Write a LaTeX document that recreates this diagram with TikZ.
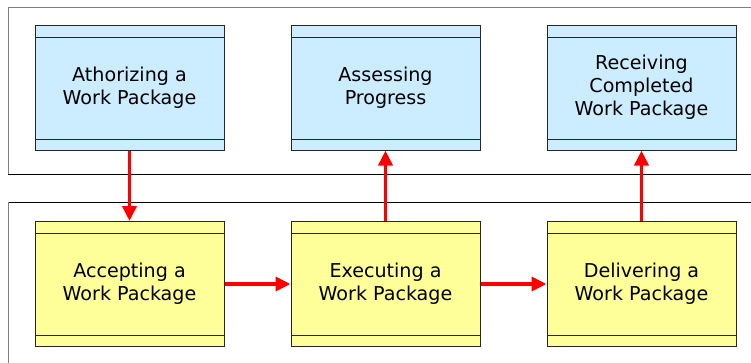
\documentclass[tikz,border=0pt]{standalone}
\usepackage{fontspec}
\setmainfont{DejaVu Sans}
\usetikzlibrary{arrows.meta}
\definecolor{pkgblue}{RGB}{204,236,255}
\definecolor{pkgyellow}{RGB}{255,255,153}
\begin{document}
\begin{tikzpicture}[
  x=1pt, y=1pt,
  block/.style={rectangle, draw=black!85, line width=1pt, minimum width=189pt, minimum height=125pt,
    align=center, font=\fontsize{19.1}{22.8}\selectfont, inner sep=0pt,
    path picture={
      \draw[black!85, line width=1pt] ([yshift=-12pt]path picture bounding box.north west) -- ([yshift=-12pt]path picture bounding box.north east);
      \draw[black!85, line width=1pt] ([yshift=11pt]path picture bounding box.south west) -- ([yshift=11pt]path picture bounding box.south east);
    }},
  manager/.style={block, fill=pkgblue},
  team/.style={block, fill=pkgyellow},
  flow/.style={-{Triangle[length=15pt,width=14pt]}, red, line width=3.6pt},
  node distance=256pt
]
\useasboundingbox (0,0) rectangle (751,-362);

% Frames
\draw[gray, line width=0.9pt] (760,-7) -- (8,-7) -- (8,-174);
\draw[line width=0.9pt] (8,-174) -- (760,-174);
\draw[line width=0.9pt] (760,-202) -- (8,-202);
\draw[gray, line width=0.9pt] (8,-202) -- (8,-370);

% Upper row - project manager
\node[manager] (auth) at (129.5,-87.5) {Athorizing a\\Work Package};
\node[manager, right of=auth] (assess) {Assessing\\Progress};
\node[manager, right of=assess] (receive) {Receiving\\Completed\\Work Package};

% Lower row - team
\node[team, below of=auth, node distance=196.5pt] (accept) {Accepting a\\Work Package};
\node[team, right of=accept] (exec) {Executing a\\Work Package};
\node[team, right of=exec] (deliver) {Delivering a\\Work Package};

% Arrows
\draw[flow] (auth) -- (accept);
\draw[flow] (accept) -- (exec);
\draw[flow] (exec) -- (deliver);
\draw[flow] (exec) -- (assess);
\draw[flow] (deliver) -- (receive);
\end{tikzpicture}
\end{document}
